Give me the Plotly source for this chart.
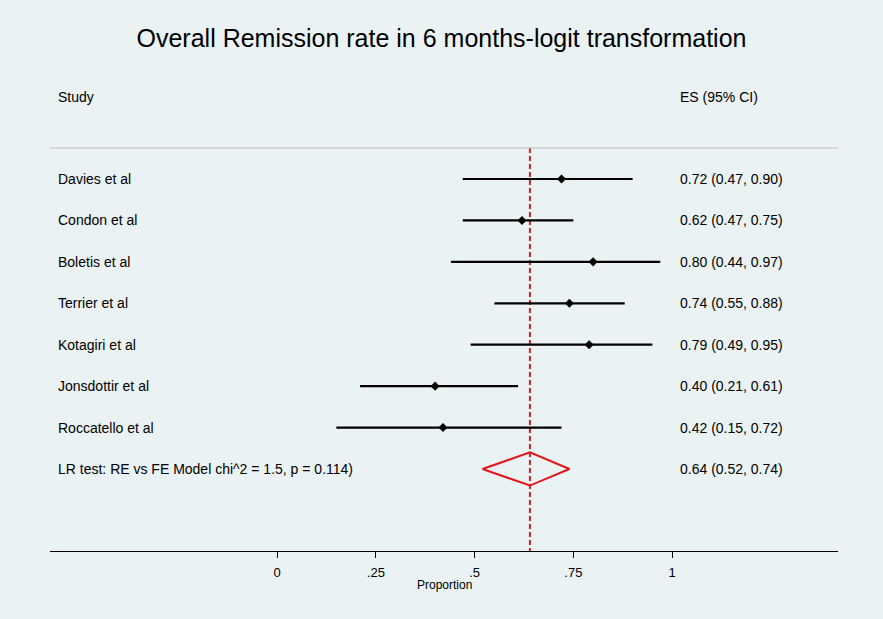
import plotly.graph_objects as go

studies = ["Davies et al", "Condon et al", "Boletis et al", "Terrier et al",
           "Kotagiri et al", "Jonsdottir et al", "Roccatello et al"]
es = [0.72, 0.62, 0.80, 0.74, 0.79, 0.40, 0.42]
lo = [0.47, 0.47, 0.44, 0.55, 0.49, 0.21, 0.15]
hi = [0.90, 0.75, 0.97, 0.88, 0.95, 0.61, 0.72]
pooled_label = "LR test: RE vs FE Model chi^2 = 1.5, p = 0.114)"
pooled_es = 0.64
pooled_lo = 0.52
pooled_hi = 0.74
tick_vals = [0, 0.25, 0.5, 0.75, 1]
tick_text = ["0", ".25", ".5", ".75", "1"]

BG = "#EAF2F3"
FONT = "Liberation Sans, Arial, sans-serif"
XMIN, XMAX = -0.575, 1.42
YTOP, YBOT = -1.39, 9.98
LABEL_X = -0.559
ES_X = 1.0152

fig = go.Figure()

rows = list(range(1, len(studies) + 1))
pooled_row = len(studies) + 1

# red dashed vertical line at pooled estimate
fig.add_trace(go.Scatter(x=[pooled_es, pooled_es], y=[0.25, YBOT], mode="lines",
                         line=dict(color="#C8252B", width=2, dash="5px,3px"),
                         hoverinfo="skip", showlegend=False))

# CIs
for r, l, h in zip(rows, lo, hi):
    fig.add_trace(go.Scatter(x=[l, h], y=[r, r], mode="lines",
                             line=dict(color="black", width=2.2),
                             hoverinfo="skip", showlegend=False))
fig.add_trace(go.Scatter(x=es, y=rows, mode="markers",
                         marker=dict(symbol="diamond", size=7, color="black"),
                         hoverinfo="skip", showlegend=False))

# pooled diamond
fig.add_trace(go.Scatter(x=[pooled_lo, pooled_es, pooled_hi, pooled_es, pooled_lo],
                         y=[pooled_row, pooled_row - 0.4, pooled_row, pooled_row + 0.4, pooled_row],
                         mode="lines", line=dict(color="#E5141B", width=2),
                         hoverinfo="skip", showlegend=False))

# separator line
fig.add_shape(type="line", xref="paper", yref="y", x0=0, x1=1, y0=0.25, y1=0.25,
              line=dict(color="#BEBEBE", width=1))

ann = []
ann.append(dict(x=LABEL_X, y=-0.98, text="Study", xanchor="left", yanchor="middle"))
ann.append(dict(x=ES_X, y=-0.98, text="ES (95% CI)", xanchor="left", yanchor="middle"))
for r, s, e, l, h in zip(rows, studies, es, lo, hi):
    ann.append(dict(x=LABEL_X, y=r, text=s, xanchor="left", yanchor="middle"))
    ann.append(dict(x=ES_X, y=r, text=f"{e:.2f} ({l:.2f}, {h:.2f})", xanchor="left", yanchor="middle"))
ann.append(dict(x=LABEL_X, y=pooled_row, text=pooled_label, xanchor="left", yanchor="middle"))
ann.append(dict(x=ES_X, y=pooled_row,
                text=f"{pooled_es:.2f} ({pooled_lo:.2f}, {pooled_hi:.2f})",
                xanchor="left", yanchor="middle"))
for a in ann:
    a.update(xref="x", yref="y", showarrow=False, font=dict(family=FONT, size=14, color="black"))
    fig.add_annotation(**a)

fig.add_annotation(x=0.425, y=0, xref="x", yref="paper", text="Proportion",
                   showarrow=False, xanchor="center", yanchor="middle", yshift=-34,
                   font=dict(family=FONT, size=12, color="black"))

fig.update_layout(
    width=883, height=619,
    paper_bgcolor=BG, plot_bgcolor=BG,
    margin=dict(l=50, r=45, t=80, b=68),
    title=dict(text="Overall Remission rate in 6 months-logit transformation",
               x=0.5, xanchor="center", y=1 - 38 / 619, yanchor="middle",
               font=dict(family=FONT, size=25, color="black")),
    xaxis=dict(range=[XMIN, XMAX], tickvals=tick_vals, ticktext=tick_text,
               showgrid=False, zeroline=False, showline=True, linecolor="black",
               linewidth=1, ticks="outside", ticklen=6, tickcolor="black",
               ticklabelstandoff=3,
               tickfont=dict(family=FONT, size=13, color="black")),
    yaxis=dict(range=[YBOT, YTOP], visible=False, showgrid=False, zeroline=False),
    showlegend=False,
)

fig.write_html("out.html", config={"displayModeBar": False},
               post_script="document.body.style.margin='0';document.body.style.background='%s';" % BG)
